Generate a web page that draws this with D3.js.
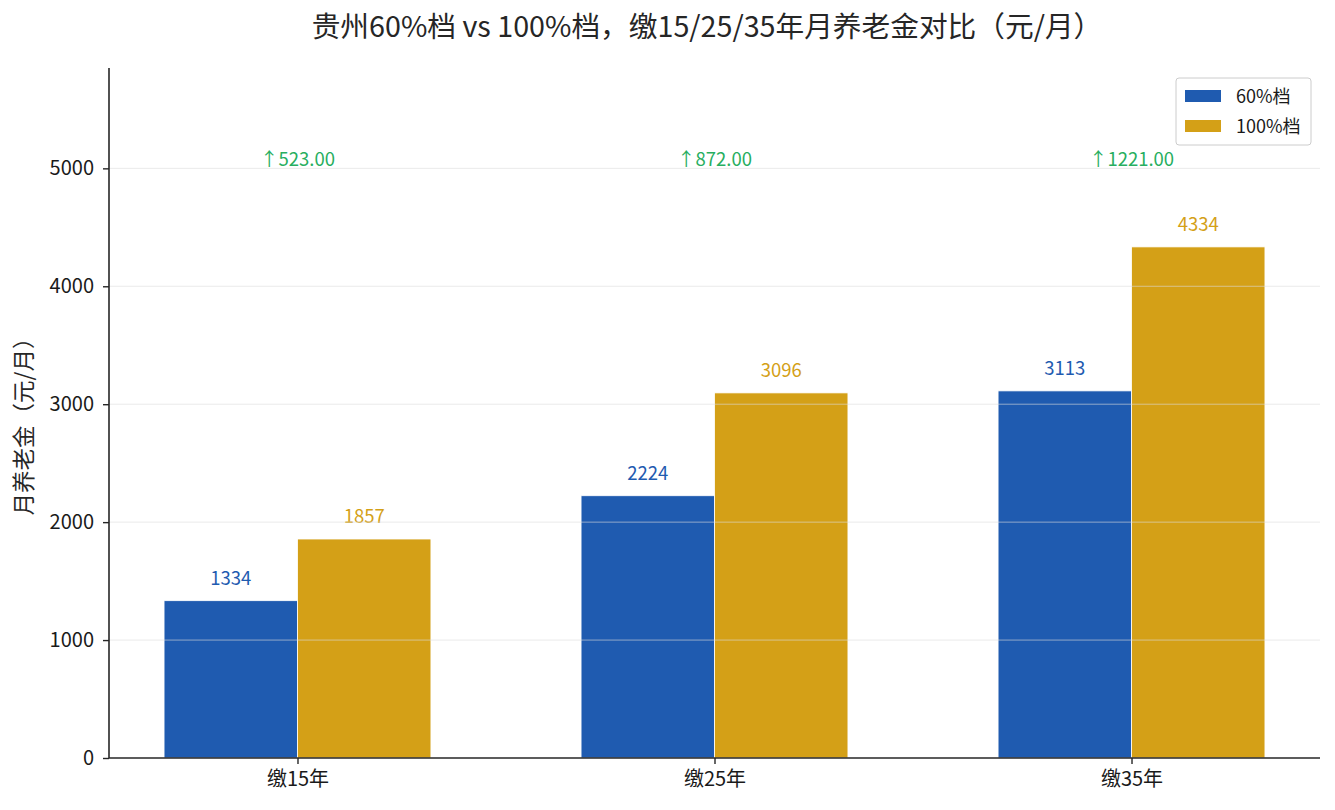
<!DOCTYPE html>
<html>
<head>
<meta charset="utf-8">
<script src="https://cdn.jsdelivr.net/npm/d3@7"></script>
<style>
  body { margin: 0; background: #fff; }
  svg text { font-family: "Noto Sans CJK SC", "Noto Sans", sans-serif; }
</style>
</head>
<body>
<div id="chart"></div>
<script>
// data
const categories = ["缴15年", "缴25年", "缴35年"];
const seriesNames = ["60%档", "100%档"];
const tier60 = [1334, 2224, 3113];
const tier100 = [1857, 3096, 4334];
const yTicks = [0, 1000, 2000, 3000, 4000, 5000];

const width = 1335;
const height = 810;
const margin = {top: 68, right: 15, bottom: 52, left: 109};
const innerW = width - margin.left - margin.right;
const innerH = height - margin.top - margin.bottom;

const colors = ["#1f5bb0", "#d4a017"];
const green = "#27ae60";
const barW = 0.32;

const svg = d3.select("#chart").append("svg")
    .attr("width", width)
    .attr("height", height);

svg.append("text")
    .attr("x", 707)
    .attr("y", 37)
    .attr("text-anchor", "middle")
    .attr("font-size", 28.7)
    .attr("fill", "#262626")
    .text("贵州60%档 vs 100%档，缴15/25/35年月养老金对比（元/月）");

const g = svg.append("g")
    .attr("transform", `translate(${margin.left}, ${margin.top})`);

/* Scale */
const xScale = d3.scaleLinear()
    .domain([-barW - 0.132, categories.length - 1 + barW + 0.132])
    .range([0, innerW]);

const yScale = d3.scaleLinear()
    .domain([0, d3.max(tier100) * 1.35])
    .range([innerH, 0]);

// bars
const series = [tier60, tier100];
series.forEach((vals, s) => {
    const off = s === 0 ? -barW : 0;
    g.append("g").selectAll("rect")
        .data(vals).enter()
        .append("rect")
        .attr("x", (d, i) => xScale(i + off))
        .attr("y", d => yScale(d))
        .attr("width", xScale(barW) - xScale(0))
        .attr("height", d => innerH - yScale(d))
        .attr("fill", colors[s])
        .attr("stroke", "#fff")
        .attr("stroke-width", 0.8);

    g.append("g").selectAll("text")
        .data(vals).enter()
        .append("text")
        .attr("x", (d, i) => xScale(i + off + barW / 2))
        .attr("y", d => yScale(d) - 16)
        .attr("text-anchor", "middle")
        .attr("font-size", 18.5)
        .attr("fill", colors[s])
        .text(d => d);
});

// grid on top of the bars
g.append("g").selectAll("line")
    .data(yTicks.slice(1)).enter()
    .append("line")
    .attr("x1", 0)
    .attr("x2", innerW)
    .attr("y1", d => yScale(d))
    .attr("y2", d => yScale(d))
    .attr("stroke", "#dcdcdc")
    .attr("stroke-opacity", 0.6)
    .attr("stroke-width", 1);

// difference annotations
g.append("g").selectAll("text")
    .data(categories).enter()
    .append("text")
    .attr("x", (d, i) => xScale(i))
    .attr("y", yScale(5020))
    .attr("text-anchor", "middle")
    .attr("font-size", 18.5)
    .attr("fill", green)
    .text((d, i) => "↑" + (tier100[i] - tier60[i]).toFixed(2));

/* Axes */
const xAxis = d3.axisBottom(xScale)
    .tickValues(categories.map((d, i) => i))
    .tickFormat(i => categories[i])
    .tickSize(6);
const yAxis = d3.axisLeft(yScale)
    .tickValues(yTicks)
    .tickFormat(d3.format("d"))
    .tickSize(6);

const xg = g.append("g")
    .attr("transform", `translate(0, ${innerH})`)
    .call(xAxis);
const yg = g.append("g").call(yAxis);

[xg, yg].forEach(ax => {
    ax.select(".domain").attr("stroke", "#262626").attr("stroke-width", 1.6);
    ax.selectAll(".tick line").attr("stroke", "#262626").attr("stroke-width", 1.4);
    ax.selectAll(".tick text")
        .attr("font-size", 20)
        .attr("fill", "#1a1a1a")
        .attr("font-family", '"Noto Sans CJK SC", sans-serif');
});
xg.selectAll(".tick text").attr("dy", "0.95em");
yg.selectAll(".tick text").attr("dx", "-0.3em");
xg.select(".domain").attr("d", `M0,0H${innerW}`);
yg.select(".domain").attr("d", `M0,${innerH}V0`);

svg.append("text")
    .attr("transform", `translate(32, ${margin.top + innerH / 2 + 8}) rotate(-90)`)
    .attr("text-anchor", "middle")
    .attr("font-size", 22.5)
    .attr("fill", "#262626")
    .text("月养老金（元/月）");

/* Legend */
const lg = svg.append("g").attr("transform", "translate(1176, 78)");
lg.append("rect")
    .attr("width", 135)
    .attr("height", 67)
    .attr("rx", 3)
    .attr("fill", "#fff")
    .attr("stroke", "#cccccc");
seriesNames.forEach((name, i) => {
    lg.append("rect")
        .attr("x", 9)
        .attr("y", 12 + i * 30)
        .attr("width", 36)
        .attr("height", 12)
        .attr("fill", colors[i]);
    lg.append("text")
        .attr("x", 60)
        .attr("y", 25 + i * 30)
        .attr("font-size", 18)
        .attr("fill", "#1a1a1a")
        .text(name);
});
</script>
</body>
</html>
